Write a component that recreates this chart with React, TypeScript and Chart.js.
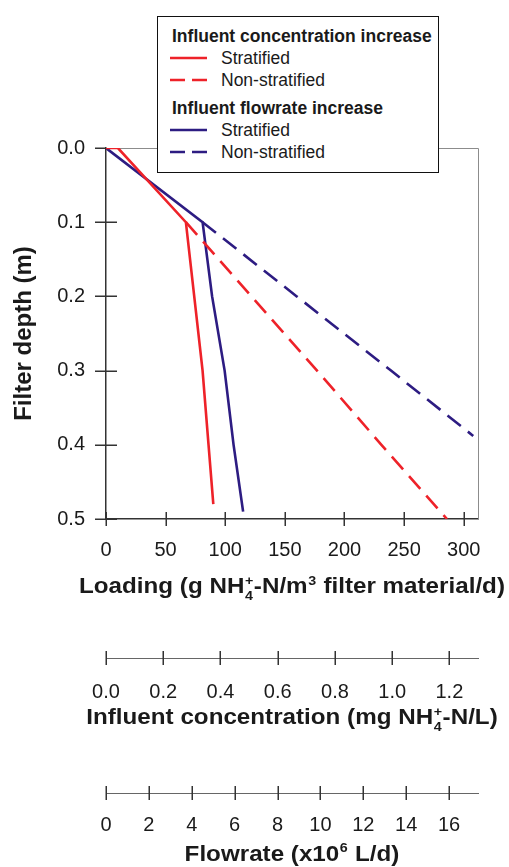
import React, { useEffect, useRef } from "react";
import { Chart, registerables } from "chart.js";

Chart.register(...registerables);

const FONT = "'Liberation Sans', Arial, Helvetica, sans-serif";
const RED = "#EE2229";
const BLUE = "#2D1C82";
const INK = "#1a1a1a";

// ---- Data (loading in g NH4+-N/m3/d vs filter depth in m) ----
const concStratLoading = [0, 10, 67, 74, 81, 86, 90];
const concStratDepth = [0, 0, 0.1, 0.2, 0.3, 0.4, 0.48];
const concNonStratLoading = [67, 122, 177, 231, 286];
const concNonStratDepth = [0.1, 0.2, 0.3, 0.4, 0.5];
const flowStratLoading = [0, 81, 89, 99.5, 107, 115];
const flowStratDepth = [0, 0.1, 0.2, 0.3, 0.4, 0.49];
const flowNonStratLoading = [81, 160, 239, 308];
const flowNonStratDepth = [0.1, 0.2, 0.3, 0.388];

// ---- Axes ----
const loadingTicks = [0, 50, 100, 150, 200, 250, 300];
const depthTicks = [0, 0.1, 0.2, 0.3, 0.4, 0.5];
const concTicks = [0, 0.2, 0.4, 0.6, 0.8, 1.0, 1.2];
const flowTicks = [0, 2, 4, 6, 8, 10, 12, 14, 16];
const loadingMax = 312;
const depthMax = 0.5;
const concMax = 1.3;
const flowMax = 17.35;

// ---- Axis titles (rich text: sub / sup parts) ----
type Seg = { t?: string; sub?: string; sup?: string };
const loadingTitle: Seg[] = [
  { t: "Loading (g NH" },
  { sub: "4", sup: "+" },
  { t: "-N/m" },
  { sup: "3" },
  { t: " filter material/d)" },
];
const concTitle: Seg[] = [
  { t: "Influent concentration (mg NH" },
  { sub: "4", sup: "+" },
  { t: "-N/L)" },
];
const flowTitle: Seg[] = [{ t: "Flowrate (x10" }, { sup: "6" }, { t: " L/d)" }];
const depthTitle = "Filter depth (m)";

// ---- Legend ----
const groupTitles = ["Influent concentration increase", "Influent flowrate increase"];
const seriesNames = ["Stratified", "Non-stratified"];

const toPoints = (xs: number[], ys: number[]) => xs.map((x, i) => ({ x, y: ys[i] }));

const seriesDefs = [
  { group: 0, name: 0, color: RED, dashed: false, xs: concStratLoading, ys: concStratDepth },
  { group: 0, name: 1, color: RED, dashed: true, xs: concNonStratLoading, ys: concNonStratDepth },
  { group: 1, name: 0, color: BLUE, dashed: false, xs: flowStratLoading, ys: flowStratDepth },
  { group: 1, name: 1, color: BLUE, dashed: true, xs: flowNonStratLoading, ys: flowNonStratDepth },
];

const tickFont = { family: FONT, size: 20 };

const setTicks = (vals: number[]) => (s: any) => {
  s.ticks = vals.map((v) => ({ value: v }));
};

function drawRich(ctx: CanvasRenderingContext2D, segs: Seg[], cx: number, baseline: number, size: number, sx: number) {
  const big = `bold ${size}px ${FONT}`;
  const smallSize = Math.round(size * 0.6);
  const small = `bold ${smallSize}px ${FONT}`;
  let total = 0;
  const parts = segs.map((s) => {
    let w: number;
    if (s.t) {
      ctx.font = big;
      w = ctx.measureText(s.t).width;
    } else {
      ctx.font = small;
      w = Math.max(s.sub ? ctx.measureText(s.sub).width : 0, s.sup ? ctx.measureText(s.sup).width : 0) + 1;
    }
    total += w;
    return { s, w };
  });
  ctx.save();
  ctx.translate(cx, baseline);
  ctx.scale(sx, 1);
  ctx.fillStyle = INK;
  ctx.textAlign = "left";
  ctx.textBaseline = "alphabetic";
  let x = -total / 2;
  parts.forEach(({ s, w }) => {
    if (s.t) {
      ctx.font = big;
      ctx.fillText(s.t, x, 0);
    } else {
      ctx.font = small;
      if (s.sup) ctx.fillText(s.sup, x + 0.5, -size * 0.37);
      if (s.sub) ctx.fillText(s.sub, x + 0.5, size * 0.3);
    }
    x += w;
  });
  ctx.restore();
}

const crossTicks = {
  id: "crossTicks",
  beforeDatasetsDraw(chart: any) {
    const { ctx, chartArea: a, scales } = chart;
    ctx.save();
    // light frame top/right
    ctx.strokeStyle = "#8c8c8c";
    ctx.lineWidth = 1;
    ctx.beginPath();
    ctx.moveTo(a.left, Math.round(a.top) + 0.5);
    ctx.lineTo(Math.round(a.right) + 0.5, Math.round(a.top) + 0.5);
    ctx.lineTo(Math.round(a.right) + 0.5, a.bottom);
    ctx.stroke();

    ctx.strokeStyle = "#333";
    ctx.lineWidth = 1.5;
    ctx.beginPath();
    const y = scales.y;
    y.ticks.forEach((t: any) => {
      const p = Math.round(y.getPixelForValue(t.value)) + 0.25;
      ctx.moveTo(a.left - 11, p);
      ctx.lineTo(t.value === 0 ? a.left : a.left + 11, p);
    });
    ["x", "xConc", "xFlow"].forEach((id) => {
      const s = scales[id];
      s.ticks.forEach((t: any) => {
        const p = Math.round(s.getPixelForValue(t.value)) + 0.25;
        ctx.moveTo(p, s.top - 7);
        ctx.lineTo(p, s.top + 7);
      });
    });
    ctx.stroke();
    ctx.restore();
  },
  afterDraw(chart: any) {
    const { ctx, chartArea: a, scales } = chart;
    const cx = (a.left + a.right) / 2;
    drawRich(ctx, loadingTitle, cx, scales.x.top + 74, 22, 1.1);
    drawRich(ctx, concTitle, cx, scales.xConc.top + 66, 22, 1.1);
    drawRich(ctx, flowTitle, cx, scales.xFlow.top + 67.5, 22, 1.1);
  },
};

function LegendSample({ color, dashed }: { color: string; dashed: boolean }) {
  return (
    <svg width={37} height={6} style={{ display: "block" }}>
      <line
        x1={0}
        y1={3}
        x2={37}
        y2={3}
        stroke={color}
        strokeWidth={2.5}
        strokeDasharray={dashed ? "15 7" : undefined}
      />
    </svg>
  );
}

export default function App() {
  const ref = useRef<HTMLCanvasElement>(null);

  useEffect(() => {
    const chart = new Chart(ref.current!, {
      type: "line",
      data: {
        datasets: seriesDefs.map((d) => ({
          label: `${groupTitles[d.group]} – ${seriesNames[d.name]}`,
          data: toPoints(d.xs, d.ys),
          xAxisID: "x",
          yAxisID: "y",
          borderColor: d.color,
          backgroundColor: d.color,
          borderWidth: 2.6,
          borderDash: d.dashed ? [17, 9] : [],
          pointRadius: 0,
          fill: false,
          tension: 0,
        })),
      },
      options: {
        animation: false,
        responsive: false,
        devicePixelRatio: 1,
        layout: { padding: { left: 0, top: 148, right: 31, bottom: 0 } },
        plugins: {
          legend: { display: false },
          title: { display: false },
          tooltip: { enabled: false },
        },
        scales: {
          y: {
            type: "linear",
            position: "left",
            reverse: true,
            min: 0,
            max: depthMax,
            afterBuildTicks: setTicks(depthTicks),
            afterFit: (s: any) => {
              s.width = 106;
            },
            ticks: {
              font: tickFont,
              color: INK,
              padding: 21,
              autoSkip: false,
              callback: (v: any) => Number(v).toFixed(1),
            },
            grid: { display: true, drawOnChartArea: false, drawTicks: false },
            border: { display: true, color: "#333", width: 1.5 },
            title: {
              display: true,
              text: depthTitle,
              font: { family: FONT, size: 24, weight: "bold" },
              color: INK,
              padding: { top: 10, bottom: 0 },
            },
          },
          x: {
            type: "linear",
            position: "bottom",
            weight: 0,
            min: 0,
            max: loadingMax,
            afterBuildTicks: setTicks(loadingTicks),
            afterFit: (s: any) => {
              s.height = 139;
            },
            ticks: {
              font: tickFont,
              color: INK,
              padding: 19,
              autoSkip: false,
              maxRotation: 0,
              callback: (v: any) => String(v),
            },
            grid: { display: true, drawOnChartArea: false, drawTicks: false },
            border: { display: true, color: "#333", width: 1.5 },
            title: { display: false },
          },
          xConc: {
            type: "linear",
            axis: "x",
            position: "bottom",
            weight: 1,
            min: 0,
            max: concMax,
            afterBuildTicks: setTicks(concTicks),
            afterFit: (s: any) => {
              s.height = 135;
            },
            ticks: {
              font: tickFont,
              color: INK,
              padding: 22,
              autoSkip: false,
              maxRotation: 0,
              callback: (v: any) => Number(v).toFixed(1),
            },
            grid: { display: true, drawOnChartArea: false, drawTicks: false },
            border: { display: true, color: "#666", width: 1 },
            title: { display: false },
          },
          xFlow: {
            type: "linear",
            axis: "x",
            position: "bottom",
            weight: 2,
            min: 0,
            max: flowMax,
            afterBuildTicks: setTicks(flowTicks),
            afterFit: (s: any) => {
              s.height = 74;
            },
            ticks: {
              font: tickFont,
              color: INK,
              padding: 20,
              autoSkip: false,
              maxRotation: 0,
              callback: (v: any) => String(v),
            },
            grid: { display: true, drawOnChartArea: false, drawTicks: false },
            border: { display: true, color: "#666", width: 1 },
            title: { display: false },
          },
        } as any,
      },
      plugins: [crossTicks],
    });
    return () => chart.destroy();
  }, []);

  return (
    <div style={{ position: "absolute", left: 0, top: 0, width: 509, height: 867, background: "#fff" }}>
      <canvas ref={ref} width={509} height={867} style={{ display: "block" }} />
      <div
        style={{
          position: "absolute",
          left: 157,
          top: 16,
          width: 282,
          height: 157,
          boxSizing: "border-box",
          border: "1.5px solid #111",
          background: "#fff",
          fontFamily: FONT,
          fontSize: 17.5,
          color: INK,
          paddingTop: 7.5,
        }}
      >
        {groupTitles.map((g, gi) => (
          <div key={g} style={{ marginTop: gi === 0 ? 0 : 6 }}>
            <div style={{ height: 22, lineHeight: "22px", paddingLeft: 14, fontWeight: "bold", whiteSpace: "nowrap" }}>
              {g}
            </div>
            {seriesDefs
              .filter((d) => d.group === gi)
              .map((d) => (
                <div
                  key={d.name}
                  style={{ height: 22, display: "flex", alignItems: "center", paddingLeft: 12, whiteSpace: "nowrap" }}
                >
                  <LegendSample color={d.color} dashed={d.dashed} />
                  <span style={{ marginLeft: 14, lineHeight: "22px" }}>{seriesNames[d.name]}</span>
                </div>
              ))}
          </div>
        ))}
      </div>
    </div>
  );
}
